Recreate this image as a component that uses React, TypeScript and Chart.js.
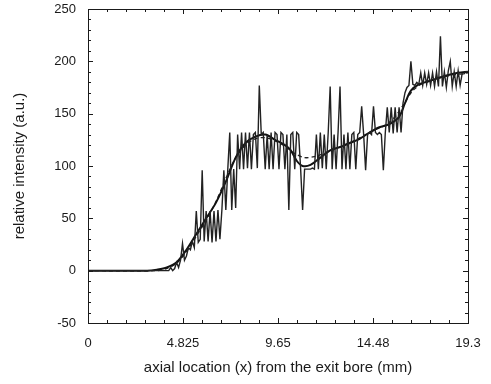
import React, { useEffect, useRef } from "react";
import { Chart, registerables } from "chart.js";

Chart.register(...registerables);

// ---- Data ----
const xTickValues = [0, 4.825, 9.65, 14.48, 19.3];
const xTickLabels = ["0", "4.825", "9.65", "14.48", "19.3"];
const yTickLabels = ["-50", "0", "50", "100", "150", "200", "250"];

const rawX = [
  0, 4.0, 4.1, 4.2, 4.3, 4.4, 4.5, 4.6, 4.7, 4.8, 4.9,
  5.0, 5.1, 5.2, 5.3, 5.4, 5.5, 5.6, 5.7, 5.8, 5.9,
  6.0, 6.1, 6.2, 6.3, 6.4, 6.5, 6.6, 6.7, 6.8, 6.9,
  7.0, 7.1, 7.2, 7.3, 7.4, 7.5, 7.6, 7.7, 7.8, 7.9,
  8.0, 8.1, 8.2, 8.3, 8.4, 8.5, 8.6, 8.7, 8.8, 8.9,
  9.0, 9.1, 9.2, 9.3, 9.4, 9.5, 9.6, 9.7, 9.8, 9.9,
  10.0, 10.1, 10.2, 10.3, 10.4, 10.5, 10.6, 10.7, 10.8, 10.9,
  11.0, 11.1, 11.2, 11.3, 11.4, 11.5, 11.6, 11.7, 11.8, 11.9,
  12.0, 12.1, 12.2, 12.3, 12.4, 12.5, 12.6, 12.7, 12.8, 12.9,
  13.0, 13.1, 13.2, 13.3, 13.4, 13.5, 13.6, 13.7, 13.8, 13.9,
  14.0, 14.1, 14.2, 14.3, 14.4, 14.5, 14.6, 14.7, 14.8, 14.9,
  15.0, 15.1, 15.2, 15.3, 15.4, 15.5, 15.6, 15.7, 15.8, 15.9,
  16.0, 16.1, 16.2, 16.3, 16.4, 16.5, 16.6, 16.7, 16.8, 16.9,
  17.0, 17.1, 17.2, 17.3, 17.4, 17.5, 17.6, 17.7, 17.8, 17.9,
  18.0, 18.1, 18.2, 18.3, 18.4, 18.5, 18.6, 18.7, 18.8, 18.9,
  19.0, 19.1, 19.2, 19.3,
];
const rawY = [
  0, 0, 0, 3, 0, 2, 8, 3, 10, 26, 10,
  14, 22, 20, 28, 22, 57, 27, 30, 96, 28,
  57, 28, 57, 27, 57, 28, 58, 30, 58, 96,
  58, 97, 132, 58, 97, 60, 130, 97, 132, 97,
  132, 98, 132, 97, 130, 132, 98, 177, 130, 132,
  97, 130, 97, 132, 97, 132, 130, 97, 132, 130,
  97, 130, 58, 130, 132, 97, 132, 130, 97, 58,
  97, 97, 97, 97, 98, 97, 130, 97, 132, 98,
  130, 97, 132, 176, 97, 130, 97, 132, 176, 97,
  130, 97, 132, 97, 130, 132, 97, 130, 132, 157,
  130, 96, 130, 132, 130, 157, 132, 130, 132, 130,
  96, 132, 156, 132, 156, 131, 156, 132, 156, 132,
  160, 170, 175, 177, 200, 178, 177, 180, 178, 189,
  177, 189, 178, 189, 177, 189, 176, 190, 176, 224,
  176, 190, 175, 191, 200, 176, 190, 176, 191, 177,
  188, 188, 190, 190,
];

const smoothX = [0, 3.0, 3.5, 4.0, 4.5, 5.0, 5.5, 6.0, 6.5, 7.0, 7.5, 8.0, 8.5, 9.0, 9.5, 10.0, 10.3, 10.6, 10.9, 11.3, 11.8, 12.3, 12.8, 13.3, 13.8, 14.3, 14.8, 15.3, 15.8, 16.1, 16.4, 16.8, 17.3, 17.8, 18.3, 18.8, 19.3];
const smoothY = [0, 0, 1, 3, 8, 20, 35, 50, 65, 85, 108, 122, 128, 130, 125, 120, 115, 105, 100, 101, 108, 115, 118, 122, 126, 132, 137, 140, 147, 160, 172, 178, 181, 184, 187, 189, 190];

const dashX = [0, 3.5, 4.0, 4.5, 5.0, 5.5, 6.0, 6.5, 7.0, 7.5, 8.0, 8.5, 9.0, 9.5, 10.0, 10.5, 11.0, 11.5, 12.0, 12.5, 13.0, 13.5, 14.0, 14.5, 15.0, 15.5, 16.0, 16.5, 17.0, 17.5, 18.0, 18.5, 19.0, 19.3];
const dashY = [0, 0, 2, 7, 18, 33, 48, 66, 88, 108, 120, 126, 127, 124, 119, 112, 108, 109, 112, 116, 120, 124, 129, 134, 138, 145, 158, 172, 179, 182, 185, 187, 188, 189];

const pts = (xs: number[], ys: number[]) => xs.map((x, i) => ({ x, y: ys[i] }));

const FONT = "'Liberation Sans', Arial, Helvetica, sans-serif";
const INK = "#1a1a1a";

const framePlugin = {
  id: "frameTicks",
  afterDatasetsDraw(chart: any) {
    const { ctx, chartArea } = chart;
    const { left, right, top, bottom } = chartArea;
    const xs = chart.scales.x;
    const ys = chart.scales.y;
    ctx.save();
    ctx.strokeStyle = INK;
    ctx.lineWidth = 1;
    ctx.strokeRect(Math.round(left) + 0.5, Math.round(top) + 0.5, Math.round(right - left), Math.round(bottom - top));
    ctx.beginPath();
    for (let k = 0; k <= 20; k++) {
      const v = (19.3 * k) / 20;
      const px = Math.round(xs.getPixelForValue(v)) + 0.5;
      const len = k % 5 === 0 ? 5 : 3;
      ctx.moveTo(px, bottom);
      ctx.lineTo(px, bottom - len);
      ctx.moveTo(px, top);
      ctx.lineTo(px, top + len);
    }
    for (let v = -50; v <= 250; v += 10) {
      const py = Math.round(ys.getPixelForValue(v)) + 0.5;
      const len = v % 50 === 0 ? 5 : 3;
      ctx.moveTo(left, py);
      ctx.lineTo(left + len, py);
      ctx.moveTo(right, py);
      ctx.lineTo(right - len, py);
    }
    ctx.stroke();
    ctx.restore();
  },
};

export default function App() {
  const ref = useRef<HTMLCanvasElement>(null);
  useEffect(() => {
    if (!ref.current) return;
    const chart = new Chart(ref.current, {
      type: "line",
      data: {
        datasets: [
          {
            data: pts(rawX, rawY),
            borderColor: "#222222",
            borderWidth: 1.4,
            pointRadius: 0,
            tension: 0,
          },
          {
            data: pts(smoothX, smoothY),
            borderColor: "#111111",
            borderWidth: 2,
            pointRadius: 0,
            tension: 0.3,
          },
          {
            data: pts(dashX, dashY),
            borderColor: "#222222",
            borderWidth: 1.3,
            borderDash: [4, 3],
            pointRadius: 0,
            tension: 0.3,
          },
        ],
      },
      options: {
        responsive: false,
        animation: false,
        events: [],
        layout: { padding: { top: 9, right: 23, left: 0, bottom: 0 } },
        plugins: { legend: { display: false }, tooltip: { enabled: false } },
        scales: {
          x: {
            type: "linear",
            min: 0,
            max: 19.3,
            grid: { display: false, drawTicks: false },
            border: { display: false },
            afterBuildTicks: (scale: any) => {
              scale.ticks = xTickValues.map((v) => ({ value: v }));
            },
            afterFit: (scale: any) => {
              scale.height = 61;
              scale.paddingLeft = 0;
              scale.paddingRight = 0;
            },
            ticks: {
              padding: 13,
              color: INK,
              font: { family: FONT, size: 13 },
              maxRotation: 0,
              autoSkip: false,
              callback: (_v: any, i: number) => xTickLabels[i],
            },
            title: {
              display: true,
              text: "axial location (x) from the exit bore (mm)",
              color: INK,
              font: { family: FONT, size: 15 },
              padding: { top: 0, bottom: 7 },
            },
          },
          y: {
            type: "linear",
            min: -50,
            max: 250,
            grid: { display: false, drawTicks: false },
            border: { display: false },
            afterFit: (scale: any) => {
              scale.width = 88;
              scale.paddingTop = 0;
              scale.paddingBottom = 0;
            },
            ticks: {
              stepSize: 50,
              padding: 12,
              color: INK,
              font: { family: FONT, size: 13 },
              callback: (_v: any, i: number) => yTickLabels[i],
            },
            title: {
              display: true,
              text: "relative intensity (a.u.)",
              color: INK,
              font: { family: FONT, size: 15 },
              padding: { top: 11, bottom: 0 },
            },
          },
        },
      },
      plugins: [framePlugin],
    } as any);
    return () => chart.destroy();
  }, []);
  return (
    <div style={{ position: "fixed", left: 0, top: 0, width: 491, height: 384, background: "#fff" }}>
      <canvas ref={ref} width={491} height={384} />
    </div>
  );
}
